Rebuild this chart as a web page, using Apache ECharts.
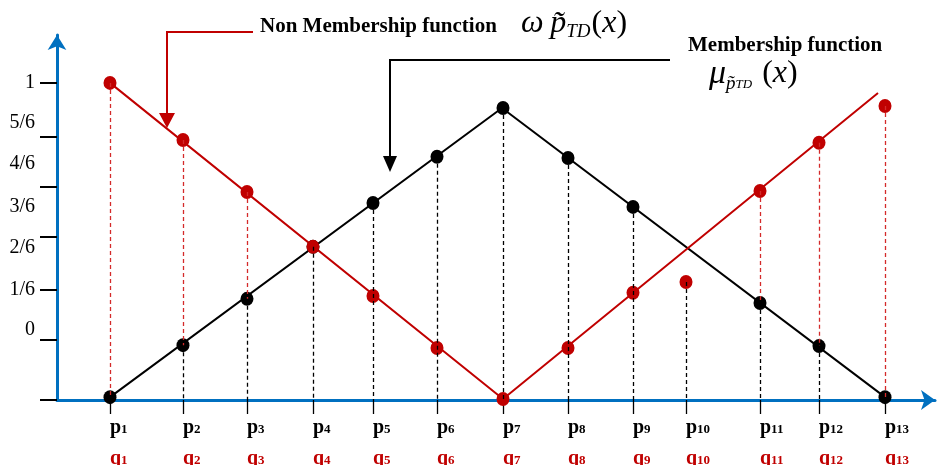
<!DOCTYPE html>
<html>
<head>
<meta charset="utf-8">
<script src="https://cdn.jsdelivr.net/npm/echarts@6/dist/echarts.min.js"></script>
<style>
  html, body { margin: 0; padding: 0; background: #fff; }
  #chart { width: 937px; height: 465px; }
</style>
</head>
<body>
<div id="chart"></div>
<script>
// point indices 1..13 (labels p_i / q_i)
const indices = ['1', '2', '3', '4', '5', '6', '7', '8', '9', '10', '11', '12', '13'];
// horizontal position of each p_i along the x axis
const xPos = [53, 126, 190, 256, 316, 380, 446, 511, 576, 629, 703, 762, 828];
// membership (black) and non membership (red) grades
const member = [0.009, 0.173, 0.319, 0.483, 0.621, 0.767, 0.921, 0.763, 0.609, null, 0.306, 0.170, 0.009];
const nonMember = [1.0, 0.820, 0.656, 0.483, 0.328, 0.164, 0.003, 0.164, 0.338, 0.372, 0.659, 0.811, 0.927];
// vertices of the two drawn polylines
const memberLineX = [53, 445, 828];
const memberLineY = [0.009, 0.921, 0.009];
const nonMemberLineX = [53, 446, 821];
const nonMemberLineY = [1.0, 0.003, 0.968];
// y axis: where the ticks sit, and where the (shifted) labels sit
const yTicks = [0, 0.189, 0.347, 0.514, 0.672, 0.830, 1.0];
const yLabelVals = [0.221, 0.347, 0.479, 0.609, 0.744, 0.874, 1.0];
const yLabelText = ['0', '1/6', '2/6', '3/6', '4/6', '5/6', '1'];

const RED = '#C00000';
const BLUE = '#0070C0';
const SERIF = '"Liberation Serif", "DejaVu Serif", serif';

const pair = (xs, ys) => xs.map((x, i) => [x, ys[i]]);

const memberPts = [];
const redPts = [];
const redDash = [];
const blackDash = [];
xPos.forEach((x, i) => {
    const m = member[i], n = nonMember[i];
    if (m !== null) memberPts.push([x, m]);
    redPts.push([x, n]);
    if (m !== null && n - m > 0.02) redDash.push({coords: [[x, n], [x, m]]});
    const top = m !== null ? m : n;
    if (top > 0.02) blackDash.push({coords: [[x, top], [x, 0]]});
});

const chart = echarts.init(document.getElementById('chart'));
chart.setOption({
    animation: false,
    grid: {left: 57, right: 2, top: 35, bottom: 65, outerBoundsMode: 'none', containLabel: false},
    xAxis: {
        type: 'value',
        min: 0,
        max: 878,
        splitLine: {show: false},
        axisLine: {
            onZero: false,
            symbol: ['none', 'arrow'],
            symbolSize: [15, 14],
            lineStyle: {color: BLUE, width: 3}
        },
        axisTick: {
            customValues: xPos,
            length: 14,
            lineStyle: {color: '#000', width: 1.3}
        },
        axisLabel: {
            customValues: xPos,
            margin: 12,
            align: 'left',
            formatter: v => {
                const s = indices[xPos.indexOf(v)];
                return '{p|p}{ps|' + s + '}\n{q|q}{qs|' + s + '}';
            },
            rich: {
                p: {fontFamily: SERIF, fontWeight: 'bold', fontSize: 20, color: '#000', lineHeight: 31},
                ps: {fontFamily: SERIF, fontWeight: 'bold', fontSize: 13, color: '#000', lineHeight: 31, padding: [5, 0, 0, 0]},
                q: {fontFamily: SERIF, fontWeight: 'bold', fontSize: 20, color: RED, lineHeight: 31},
                qs: {fontFamily: SERIF, fontWeight: 'bold', fontSize: 13, color: RED, lineHeight: 31, padding: [5, 0, 0, 0]}
            }
        }
    },
    yAxis: {
        type: 'value',
        min: 0,
        max: 1.151,
        splitLine: {show: false},
        axisLine: {
            show: true,
            onZero: false,
            symbol: ['none', 'arrow'],
            symbolSize: [14, 15],
            lineStyle: {color: BLUE, width: 3}
        },
        axisTick: {
            show: true,
            customValues: yTicks,
            length: 17,
            lineStyle: {color: '#000', width: 2}
        },
        axisLabel: {
            customValues: yLabelVals,
            margin: 22,
            fontFamily: SERIF,
            fontSize: 20,
            color: '#000',
            formatter: v => {
                let best = 0;
                yLabelVals.forEach((y, i) => {
                    if (Math.abs(y - v) < Math.abs(yLabelVals[best] - v)) best = i;
                });
                return yLabelText[best];
            }
        }
    },
    series: [
        {
            type: 'line',
            data: pair(memberLineX, memberLineY),
            symbol: 'none',
            lineStyle: {color: '#000', width: 2},
            z: 2
        },
        {
            type: 'line',
            data: pair(nonMemberLineX, nonMemberLineY),
            symbol: 'none',
            lineStyle: {color: RED, width: 2},
            z: 2
        },
        {
            type: 'scatter',
            data: memberPts,
            symbolSize: [13, 14],
            itemStyle: {color: '#000', opacity: 1},
            z: 3
        },
        {
            type: 'scatter',
            data: redPts,
            symbolSize: [13, 14],
            itemStyle: {color: RED, opacity: 1},
            z: 3
        },
        {
            type: 'lines',
            coordinateSystem: 'cartesian2d',
            data: blackDash,
            lineStyle: {color: '#000', width: 1.3, type: [4, 3], opacity: 1},
            z: 4
        },
        {
            type: 'lines',
            coordinateSystem: 'cartesian2d',
            data: redDash,
            lineStyle: {color: '#D42A2A', width: 1.3, type: [4, 3], opacity: 1},
            z: 4
        }
    ],
    graphic: [
        {type: 'polyline', shape: {points: [[253, 32], [167, 32], [167, 116]]},
         style: {stroke: RED, lineWidth: 2, fill: null}},
        {type: 'polygon', shape: {points: [[159, 113], [175, 113], [167, 128]]},
         style: {fill: RED}},
        {type: 'polyline', shape: {points: [[670, 60], [390, 60], [390, 158]]},
         style: {stroke: '#000', lineWidth: 2, fill: null}},
        {type: 'polygon', shape: {points: [[383, 156], [397, 156], [390, 172]]},
         style: {fill: '#000'}},
        {type: 'text', x: 260, y: 27,
         style: {text: 'Non Membership function', font: 'bold 21px ' + SERIF, fill: '#000', verticalAlign: 'middle'}},
        {type: 'text', x: 688, y: 46,
         style: {text: 'Membership function', font: 'bold 21px ' + SERIF, fill: '#000', verticalAlign: 'middle'}},
        {type: 'text', x: 521, y: 24,
         style: {
             text: '{w|ω}  {p|p\u0303}{s|TD}{o|(}{w|x}{o|)}',
             verticalAlign: 'middle',
             rich: {
                 w: {font: 'italic 32px ' + SERIF, fill: '#000'},
                 p: {font: 'italic 32px ' + SERIF, fill: '#000'},
                 s: {font: 'italic 19px ' + SERIF, fill: '#000', padding: [15, 1, 0, 0]},
                 o: {font: '32px ' + SERIF, fill: '#000'}
             }
         }},
        {type: 'text', x: 709, y: 74,
         style: {
             text: '{m|μ}{s|p\u0303}{t|TD}   {o|(}{w|x}{o|)}',
             verticalAlign: 'middle',
             rich: {
                 m: {font: 'italic 34px ' + SERIF, fill: '#000'},
                 s: {font: 'italic 19px ' + SERIF, fill: '#000', padding: [20, 0, 0, 0]},
                 t: {font: 'italic 13px ' + SERIF, fill: '#000', padding: [22, 0, 0, 0]},
                 w: {font: 'italic 32px ' + SERIF, fill: '#000'},
                 o: {font: '32px ' + SERIF, fill: '#000'}
             }
         }}
    ]
});
</script>
</body>
</html>
